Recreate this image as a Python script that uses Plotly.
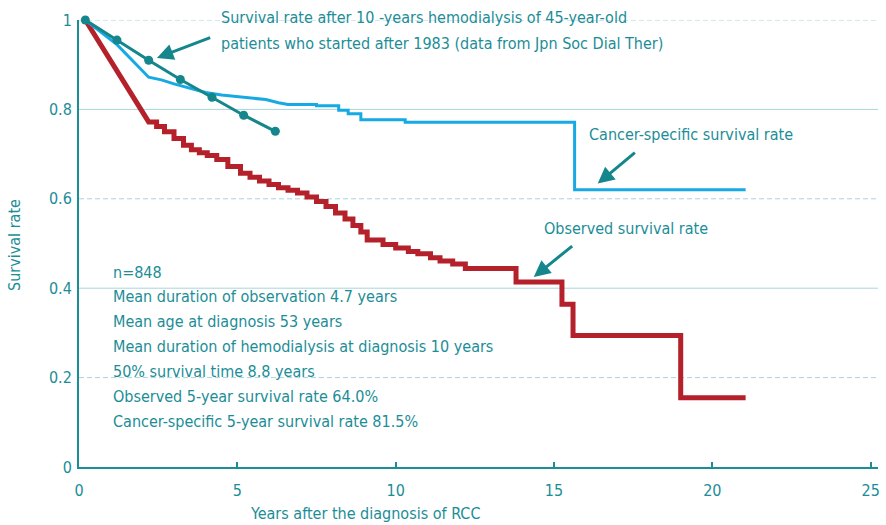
import plotly.graph_objects as go

# Observed (Kaplan-Meier) survival after diagnosis of RCC
obs_years = [0.2, 2.2, 2.45, 2.7, 3.0, 3.3, 3.55, 3.8, 4.05, 4.35, 4.7, 5.1, 5.4, 5.7, 6.0,
             6.3, 6.6, 6.9, 7.2, 7.5, 7.8, 8.1, 8.4, 8.65, 8.9, 9.1, 9.6, 10.0, 10.4, 10.7,
             11.1, 11.4, 11.8, 12.2, 13.8, 15.25, 15.6, 19.0, 21.05]
obs_surv = [1.0, 0.772, 0.762, 0.750, 0.735, 0.720, 0.710, 0.703, 0.697, 0.688, 0.672,
            0.657, 0.648, 0.640, 0.632, 0.625, 0.619, 0.613, 0.604, 0.594, 0.583, 0.568,
            0.555, 0.540, 0.526, 0.508, 0.498, 0.490, 0.482, 0.477, 0.468, 0.461, 0.454,
            0.444, 0.414, 0.364, 0.294, 0.155, 0.155]

# Cancer-specific survival
cs_years = [0.2, 1.2, 2.2, 2.6, 3.0, 3.5, 4.0, 4.5, 5.0, 5.5, 5.9, 6.3, 6.6, 7.5, 8.2,
            8.5, 8.9, 10.3, 15.65, 21.05]
cs_surv = [1.0, 0.945, 0.872, 0.866, 0.857, 0.847, 0.838, 0.832, 0.829, 0.826, 0.822,
           0.815, 0.811, 0.808, 0.798, 0.790, 0.777, 0.771, 0.620, 0.620]

# Survival of 45-year-old patients after 10 years of hemodialysis (Jpn Soc Dial Ther)
dial_years = [0.2, 1.2, 2.2, 3.2, 4.2, 5.2, 6.2]
dial_surv = [1.0, 0.955, 0.91, 0.867, 0.827, 0.787, 0.751]

y_ticks = [0, 0.2, 0.4, 0.6, 0.8, 1]
y_labels = ["0", "0.2", "0.4", "0.6", "0.8", "1"]
x_ticks = [0, 5, 10, 15, 20, 25]
x_labels = ["0", "5", "10", "15", "20", "25"]

stats_lines = [
    "n=848",
    "Mean duration of observation 4.7 years",
    "Mean age at diagnosis 53 years",
    "Mean duration of hemodialysis at diagnosis 10 years",
    "50% survival time 8.8 years",
    "Observed 5-year survival rate 64.0%",
    "Cancer-specific 5-year survival rate 81.5%",
]

TEAL = "#1B8D97"
ARROW = "#14868C"
RED = "#B5212B"
BLUE = "#16A9E3"
GRID = "#A8D4DC"
FONT = "Liberation Sans Narrow, DejaVu Sans Condensed, Arial Narrow, Roboto, sans-serif"


def km_path(years, surv, smooth_until):
    """Step path for a survival curve; the early dense part is drawn as a plain line."""
    xs, ys = [years[0]], [surv[0]]
    for i in range(1, len(years)):
        if years[i] > smooth_until and surv[i] != surv[i - 1]:
            xs.append(years[i]); ys.append(surv[i - 1])
        xs.append(years[i]); ys.append(surv[i])
    return xs, ys


fig = go.Figure()

ox, oy = km_path(obs_years, obs_surv, 2.2)
fig.add_trace(go.Scatter(x=ox, y=oy, mode="lines", cliponaxis=False,
                         line=dict(color=RED, width=5), showlegend=False))

cx, cy = km_path(cs_years, cs_surv, 7.0)
fig.add_trace(go.Scatter(x=cx, y=cy, mode="lines", cliponaxis=False,
                         line=dict(color=BLUE, width=3), showlegend=False))

fig.add_trace(go.Scatter(x=dial_years, y=dial_surv, mode="lines+markers", cliponaxis=False,
                         line=dict(color=ARROW, width=3),
                         marker=dict(color=ARROW, size=9), showlegend=False))

# horizontal reference lines: dashed / solid alternating
for yv, dash in [(1.0, "5px,3px"), (0.8, "solid"), (0.6, "5px,3px"),
                 (0.4, "solid"), (0.2, "5px,3px")]:
    fig.add_shape(type="line", xref="paper", yref="y", x0=0, x1=1, y0=yv, y1=yv,
                  line=dict(color=GRID, width=1, dash=dash), layer="below")

annotations = []
# stats block
for i, txt in enumerate(stats_lines):
    annotations.append(dict(x=1.0, y=0.436 - i * 0.0556, xref="x", yref="y", text=txt,
                            showarrow=False, xanchor="left", yanchor="middle",
                            font=dict(size=16, color=TEAL, family=FONT)))
# curve labels
annotations += [
    dict(x=4.41, y=1.005, xref="x", yref="paper",
         text="Survival rate after 10 -years hemodialysis of 45-year-old",
         showarrow=False, xanchor="left", yanchor="middle",
         font=dict(size=16, color=TEAL, family=FONT)),
    dict(x=4.41, y=0.948, xref="x", yref="y",
         text="patients who started after 1983 (data from Jpn Soc Dial Ther)",
         showarrow=False, xanchor="left", yanchor="middle",
         font=dict(size=16, color=TEAL, family=FONT)),
    dict(x=16.03, y=0.744, xref="x", yref="y", text="Cancer-specific survival rate",
         showarrow=False, xanchor="left", yanchor="middle",
         font=dict(size=16, color=TEAL, family=FONT)),
    dict(x=14.61, y=0.533, xref="x", yref="y", text="Observed survival rate",
         showarrow=False, xanchor="left", yanchor="middle",
         font=dict(size=16, color=TEAL, family=FONT)),
]
# arrows
for tip, tail in [((2.46, 0.915), (4.19, 0.962)),
                  ((16.38, 0.634), (17.6, 0.706)),
                  ((14.36, 0.425), (15.62, 0.497))]:
    annotations.append(dict(x=tip[0], y=tip[1], ax=tail[0], ay=tail[1],
                            xref="x", yref="y", axref="x", ayref="y", text="",
                            showarrow=True, arrowhead=2, arrowsize=1.1, arrowwidth=3,
                            arrowcolor=ARROW))
# axis titles
annotations += [
    dict(x=9.04, y=-0.105, xref="x", yref="paper", text="Years after the diagnosis of RCC",
         showarrow=False, xanchor="center", yanchor="middle",
         font=dict(size=16, color=TEAL, family=FONT)),
    dict(x=-0.08, y=0.497, xref="paper", yref="paper", text="Survival rate", textangle=-90,
         showarrow=False, xanchor="center", yanchor="middle",
         font=dict(size=16, color=TEAL, family=FONT)),
]

fig.update_layout(
    width=886, height=525,
    margin=dict(l=79, r=6, t=20, b=58),
    paper_bgcolor="white", plot_bgcolor="white",
    annotations=annotations,
    xaxis=dict(range=[0, 25.23], tickvals=x_ticks, ticktext=x_labels,
               showgrid=False, zeroline=False, showline=True, linecolor=TEAL, linewidth=2,
               ticks="inside", ticklen=5, tickwidth=2, tickcolor=TEAL,
               tickfont=dict(size=16, color=TEAL, family=FONT), ticklabelstandoff=8),
    yaxis=dict(range=[0, 1], tickvals=y_ticks, ticktext=y_labels,
               showgrid=False, zeroline=False, showline=True, linecolor=TEAL, linewidth=2,
               ticks="", tickfont=dict(size=16, color=TEAL, family=FONT),
               ticklabelstandoff=2),
)

fig.write_html("out.html")
